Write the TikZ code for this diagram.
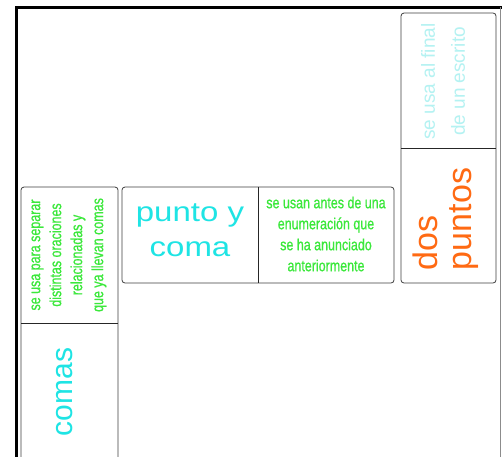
\documentclass[tikz,border=0pt]{standalone}
\usepackage{fontspec}
\setmainfont{Liberation Sans}
\newfontfamily\narrowf[FakeStretch=0.78,FakeBold=0.8]{Liberation Sans}
\newfontfamily\widef[FakeStretch=1.2]{Liberation Sans}
\definecolor{tcyan}{RGB}{30,228,228}
\definecolor{lcyan}{RGB}{180,242,242}
\definecolor{torange}{RGB}{255,106,19}
\definecolor{tgreen}{RGB}{59,232,59}
\tikzset{
  boxline/.style={draw=black!75, line width=0.8pt, rounded corners=3pt},
  divline/.style={draw=black!85, line width=0.8pt},
  lbl/.style={inner sep=0pt, outer sep=0pt, align=center},
}
\begin{document}
\begin{tikzpicture}[x=1pt,y=-1pt]
\useasboundingbox (0,0) rectangle (502,456);
\fill[white] (0,0) rectangle (502,456);
% outer frame
\draw[line width=3pt] (16,460) -- (16,7) -- (504,7);
\draw[black!45, line width=1pt] (500,7) -- (500,460);

% dos puntos box
\draw[boxline] (401,13) rectangle (496,283);
\draw[divline] (401,148) -- (496,148);
\node[lbl, rotate=90, text=lcyan, font=\fontsize{19}{30}\selectfont] (finaltxt) at (443,81.5) {se usa al final\\de un escrito};
\node[lbl, rotate=90, align=left, text=torange, font=\fontsize{34}{34}\selectfont] (dospuntos) at (446,219) {dos\\puntos};

% punto y coma box
\draw[boxline] (122,187) rectangle (394,283);
\draw[divline] (258,187) -- (258,283);
\node[lbl, text=tcyan, font=\widef\fontsize{27.5}{35}\selectfont] (puntoycoma) at (190,230) {punto y\\coma};
\node[lbl, text=tgreen, font=\narrowf\fontsize{16}{21}\selectfont] (enumtxt) at (326,234) {se usan antes de una\\enumeración que\\se ha anunciado\\anteriormente};

% comas box
\draw[boxline] (21,187) rectangle (118,480);
\draw[divline] (21,323) -- (118,323);
\node[lbl, rotate=90, text=tgreen, font=\narrowf\fontsize{16}{21}\selectfont] (separartxt) at (69,255) {se usa para separar\\distintas oraciones\\relacionadas y\\que ya llevan comas};
\node[lbl, rotate=90, text=tcyan, font=\fontsize{30}{30}\selectfont] (comas) at (65,392) {comas};
\end{tikzpicture}
\end{document}
